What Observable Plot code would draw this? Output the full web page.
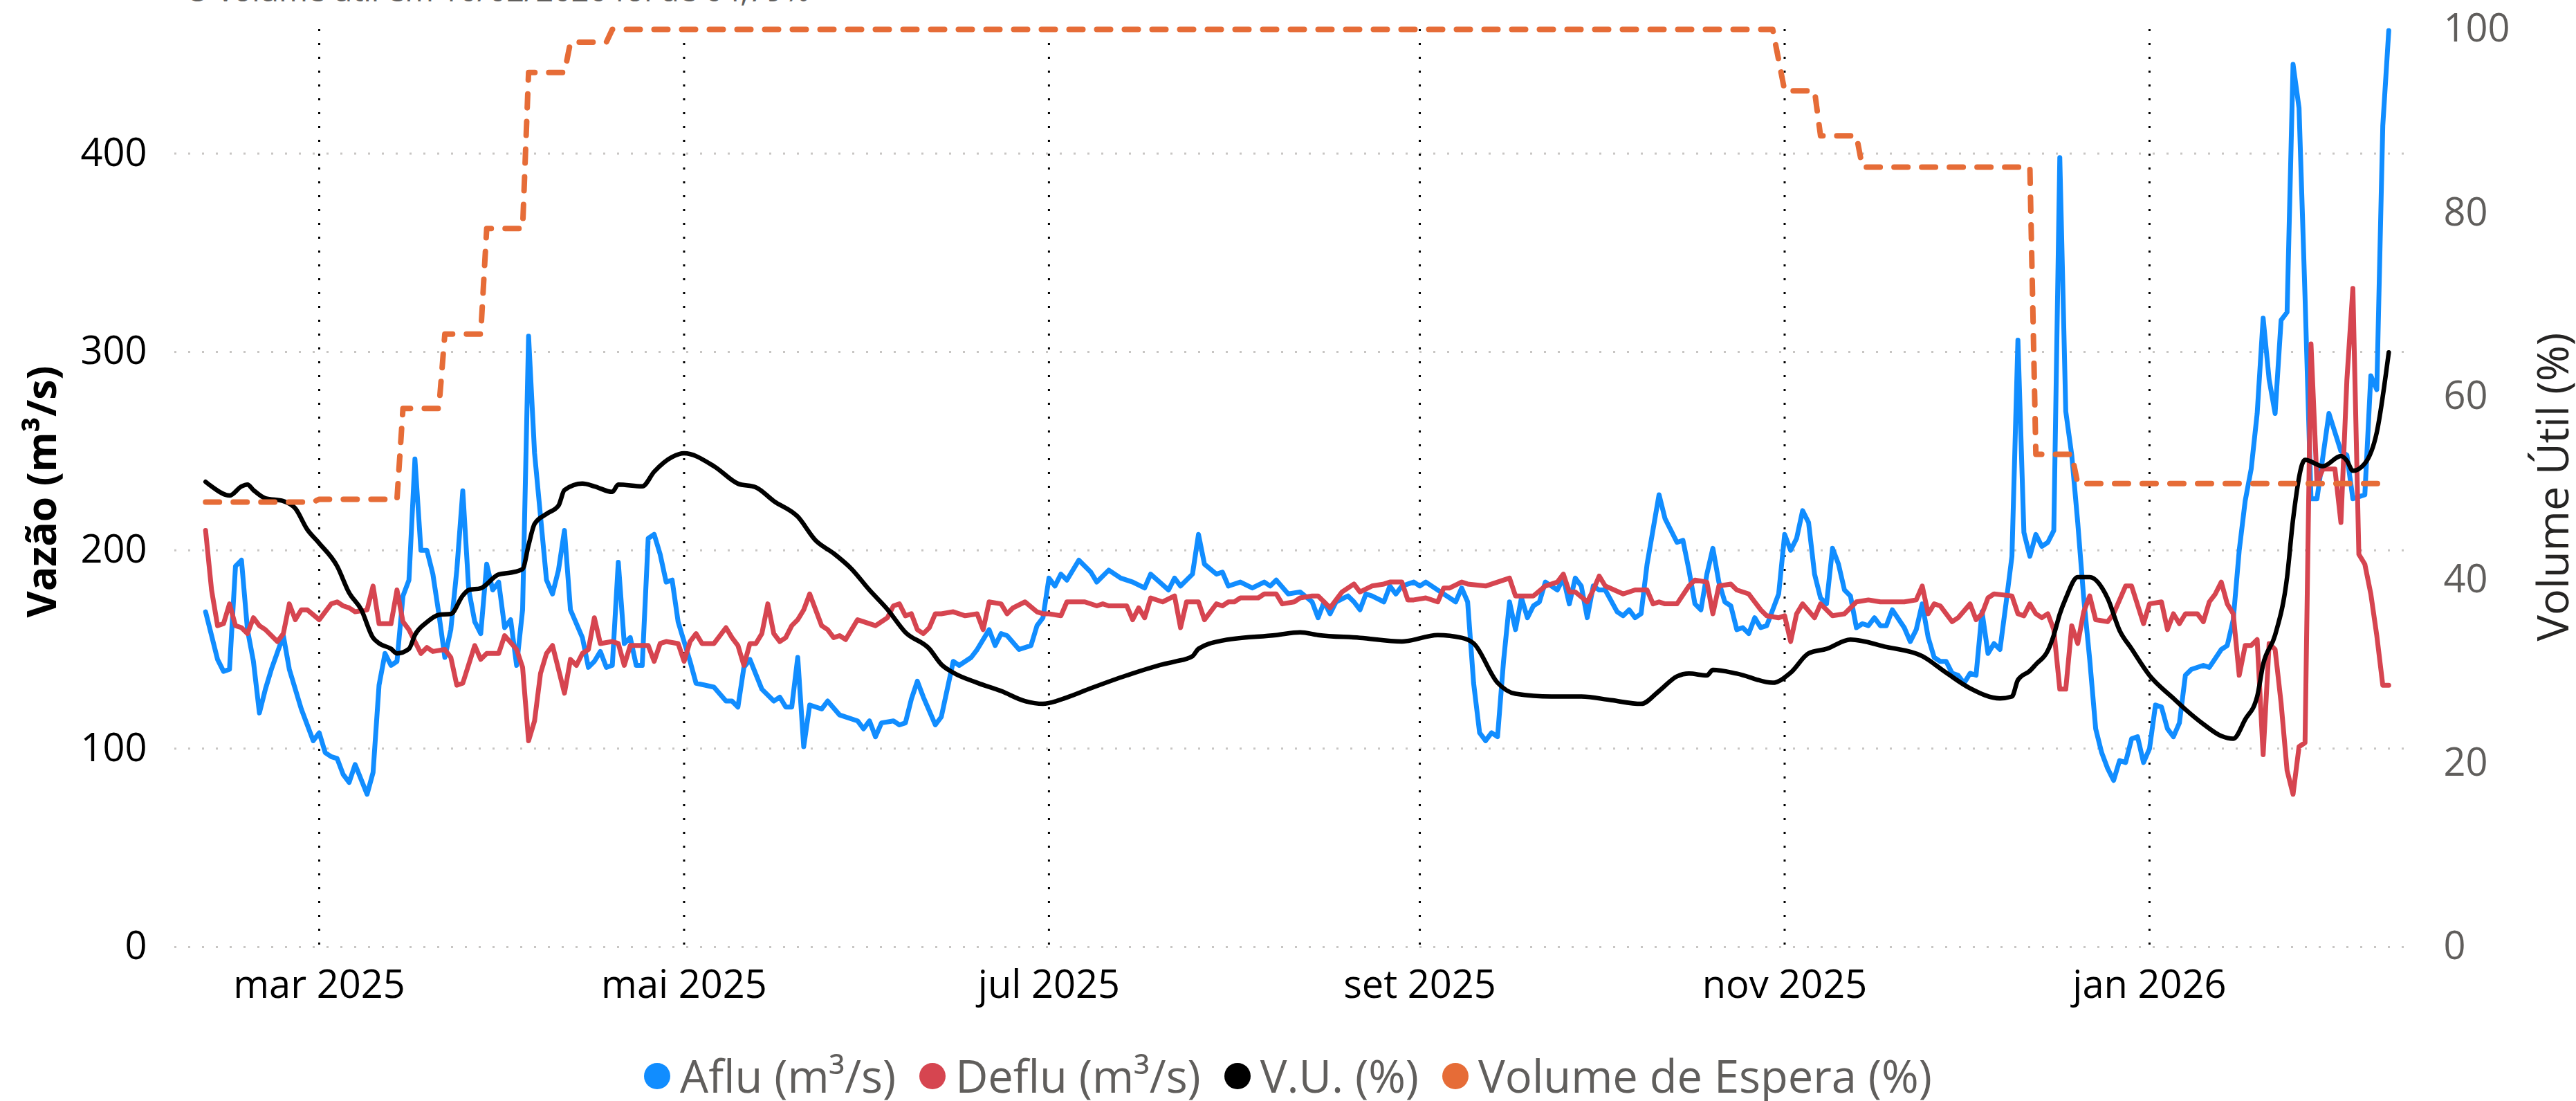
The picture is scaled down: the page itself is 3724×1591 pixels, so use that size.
<!DOCTYPE html>
<html><head><meta charset="utf-8">
<script src="https://cdn.jsdelivr.net/npm/d3@7"></script>
<script src="https://cdn.jsdelivr.net/npm/@observablehq/plot@0.6"></script>
<style>
html,body{margin:0;padding:0;background:#fff;width:3724px;height:1591px;overflow:hidden;font-family:'Open Sans',sans-serif;}
#wrap{position:relative;width:3724px;height:1591px;}
#chart{position:absolute;left:0;top:0;}
#title{position:absolute;left:268px;top:-38px;font-size:45px;line-height:45px;color:#605E5C;white-space:nowrap;}
#legend{position:absolute;left:0;top:1522px;width:3724px;height:65px;display:flex;justify-content:center;align-items:center;font-size:65px;line-height:65px;color:#605E5C;}
.item{display:flex;align-items:center;margin:0 17px;}
.dot{width:38px;height:38px;border-radius:50%;margin-right:14px;flex:none;}
</style></head>
<body><div id="wrap"><div id="title"></div><div id="chart"></div><div id="legend"></div></div>
<script>
// ---- data (day = days since 2025-03-01) ----
const titleText = "O volume útil em 10/02/2026 foi de 64,79%";
const seriesNames = ["Aflu (m³/s)", "Deflu (m³/s)", "V.U. (%)", "Volume de Espera (%)"];
const seriesColors = ["#118DFF", "#D64550", "#000000", "#E66C37"];
const leftTicks = [0, 100, 200, 300, 400];
const rightTicks = [0, 20, 40, 60, 80, 100];
const monthTicks = ["2025-03-01", "2025-05-01", "2025-07-01", "2025-09-01", "2025-11-01", "2026-01-01"];
const monthLabels = ["mar 2025", "mai 2025", "jul 2025", "set 2025", "nov 2025", "jan 2026"];

const aflu = [[-19,169],[-18,157],[-17,145],[-16,139],[-15,140],[-14,192],[-13,195],[-12,160],[-11,144],[-10,118],[-9,130],[-8,140],[-6,157],[-5,140],[-3,120],[-1,104],[0,108],[1,98],[2,96],[3,95],[4,87],[5,83],[6,92],[8,77],[9,88],[10,132],[11,148],[12,142],[13,144],[14,177],[15,185],[16,246],[17,200],[18,200],[19,188],[20,168],[21,146],[22,160],[23,190],[24,230],[25,180],[26,164],[27,158],[28,193],[29,180],[30,184],[31,161],[32,165],[33,142],[34,170],[35,308],[36,249],[38,185],[39,178],[40,190],[41,210],[42,170],[44,156],[45,141],[46,144],[47,149],[48,141],[49,142],[50,194],[51,153],[52,156],[53,142],[54,142],[55,206],[56,208],[57,198],[58,184],[59,185],[60,164],[62,144],[63,133],[66,131],[68,124],[69,124],[70,121],[71,141],[72,145],[74,130],[76,124],[77,126],[78,121],[79,121],[80,146],[81,101],[82,122],[84,120],[85,124],[87,117],[90,114],[91,110],[92,114],[93,106],[94,113],[96,114],[97,112],[98,113],[99,125],[100,134],[101,126],[103,112],[104,116],[106,144],[107,142],[109,146],[110,150],[112,160],[113,152],[114,158],[115,157],[117,150],[119,152],[120,162],[121,166],[122,186],[123,182],[124,188],[125,185],[127,195],[129,189],[130,184],[132,190],[134,186],[136,184],[138,181],[139,188],[142,180],[143,186],[144,182],[146,188],[147,208],[148,193],[150,188],[151,189],[152,182],[154,184],[156,181],[158,184],[159,182],[160,185],[162,178],[164,179],[166,174],[167,166],[168,174],[169,168],[170,174],[172,177],[173,174],[174,170],[175,178],[176,177],[178,174],[179,182],[180,178],[181,182],[183,184],[184,182],[185,184],[187,180],[190,174],[191,181],[192,174],[193,133],[194,108],[195,104],[196,108],[197,106],[198,144],[199,174],[200,160],[201,176],[202,166],[203,172],[204,174],[205,184],[206,182],[207,180],[208,186],[209,173],[210,186],[211,182],[212,166],[213,182],[214,180],[215,180],[217,169],[218,167],[219,170],[220,166],[221,168],[222,193],[224,228],[225,216],[227,204],[228,205],[229,190],[230,173],[231,170],[232,188],[233,201],[234,184],[235,174],[236,172],[237,160],[238,161],[239,158],[240,166],[241,161],[242,162],[244,178],[245,208],[246,200],[247,206],[248,220],[249,214],[250,188],[251,176],[252,173],[253,201],[254,193],[255,180],[256,177],[257,161],[258,163],[259,162],[260,166],[261,162],[262,162],[263,170],[265,161],[266,154],[267,160],[268,173],[269,156],[270,146],[271,144],[272,144],[273,138],[274,137],[275,133],[276,138],[277,137],[278,169],[279,148],[280,153],[281,150],[282,173],[283,197],[284,306],[285,209],[286,197],[287,208],[288,202],[289,204],[290,210],[291,398],[292,270],[293,248],[294,214],[295,176],[296,145],[297,110],[298,98],[299,90],[300,84],[301,94],[302,93],[303,105],[304,106],[305,93],[306,100],[307,122],[308,121],[309,110],[310,106],[311,113],[312,137],[313,140],[315,142],[316,141],[318,150],[319,152],[320,165],[321,200],[322,225],[323,241],[324,269],[325,317],[326,286],[327,269],[328,316],[329,320],[330,445],[331,423],[332,328],[333,226],[334,226],[336,269],[338,250],[339,248],[340,226],[342,228],[343,288],[344,281],[345,414],[346,462]];

const deflu = [[-19,210],[-18,180],[-17,162],[-16,163],[-15,173],[-14,162],[-13,161],[-12,158],[-11,166],[-10,162],[-9,160],[-7,154],[-6,158],[-5,173],[-4,165],[-3,170],[-2,170],[0,165],[2,173],[3,174],[4,172],[5,171],[6,169],[8,170],[9,182],[10,163],[12,163],[13,180],[14,164],[15,160],[17,148],[18,151],[19,149],[21,150],[22,146],[23,132],[24,133],[26,152],[27,145],[28,148],[30,148],[31,157],[33,150],[34,141],[35,104],[36,114],[37,138],[38,148],[39,152],[40,140],[41,128],[42,145],[43,142],[44,148],[45,150],[46,166],[47,153],[49,154],[50,153],[51,142],[52,152],[55,152],[56,144],[57,153],[58,154],[60,153],[61,144],[62,154],[63,158],[64,153],[66,153],[68,161],[69,156],[70,152],[71,142],[72,153],[73,153],[74,158],[75,173],[76,158],[77,154],[78,156],[79,162],[80,165],[81,170],[82,178],[84,162],[85,160],[86,156],[87,157],[88,155],[90,165],[91,164],[93,162],[95,166],[96,172],[97,173],[98,167],[99,168],[100,160],[101,158],[102,161],[103,168],[104,168],[106,169],[108,167],[110,168],[111,160],[112,174],[114,173],[115,168],[116,171],[118,174],[120,169],[121,168],[122,168],[124,167],[125,174],[128,174],[130,172],[131,173],[132,172],[135,172],[136,165],[137,171],[138,166],[139,176],[141,174],[143,177],[144,161],[145,174],[147,174],[148,165],[150,173],[151,172],[152,174],[153,174],[154,176],[157,176],[158,178],[160,178],[161,173],[163,174],[164,176],[166,177],[167,177],[169,171],[171,179],[173,183],[174,179],[176,182],[178,183],[179,184],[181,184],[182,175],[183,175],[185,176],[187,174],[188,181],[189,181],[191,184],[192,183],[195,182],[197,184],[199,186],[200,177],[201,177],[203,177],[205,182],[207,184],[208,188],[209,179],[210,179],[212,174],[213,180],[214,187],[215,182],[218,178],[220,180],[222,180],[223,173],[224,174],[225,173],[227,173],[229,182],[230,185],[232,184],[233,168],[234,182],[236,183],[237,180],[239,178],[241,170],[242,167],[244,166],[245,167],[246,154],[247,168],[248,173],[250,166],[251,173],[253,167],[255,168],[257,174],[259,175],[261,174],[265,174],[267,175],[268,182],[269,168],[270,173],[271,172],[273,164],[274,166],[276,173],[277,165],[278,168],[279,176],[280,178],[283,177],[284,168],[285,167],[286,173],[287,168],[288,166],[289,168],[290,160],[291,130],[292,130],[293,162],[294,153],[295,169],[296,177],[297,165],[299,164],[300,168],[302,182],[303,182],[305,163],[306,173],[308,174],[309,160],[310,168],[311,163],[312,168],[314,168],[315,164],[316,174],[317,178],[318,184],[319,173],[320,168],[321,137],[322,152],[323,152],[324,155],[325,97],[326,153],[327,150],[328,123],[329,89],[330,77],[331,101],[332,103],[333,304],[334,234],[335,241],[337,241],[338,214],[339,286],[340,332],[341,198],[342,193],[343,178],[344,157],[345,132],[346,132]];

const volumeUtil = [[-19,50.7],[-18,50.2],[-15,49.2],[-13,50.2],[-12,50.4],[-11,49.8],[-9,48.9],[-6,48.6],[-4,47.8],[-2,45.5],[0,44.0],[3,41.5],[5,38.6],[7,36.8],[9,33.7],[10,33.1],[12,32.5],[13,32.0],[15,32.5],[16,34.0],[18,35.4],[20,36.2],[22,36.3],[24,38.3],[25,38.9],[27,39.1],[30,40.6],[32,40.8],[34,41.2],[35,43.8],[36,46.1],[38,47.2],[40,48.1],[41,49.8],[44,50.5],[46,50.2],[49,49.6],[50,50.4],[54,50.2],[56,51.8],[59,53.4],[61,53.8],[66,52.4],[70,50.5],[73,50.1],[76,48.6],[80,46.9],[83,44.3],[86,42.9],[89,41.2],[92,38.9],[95,36.8],[98,34.3],[102,32.5],[104,30.8],[106,29.9],[110,28.8],[114,27.9],[118,26.8],[121,26.5],[125,27.2],[129,28.2],[135,29.6],[141,30.8],[143,31.1],[146,31.7],[147,32.5],[151,33.4],[160,34.0],[164,34.3],[167,34.0],[174,33.7],[181,33.3],[187,34.0],[191,33.7],[193,33.1],[197,28.8],[200,27.6],[206,27.3],[211,27.3],[216,26.9],[221,26.5],[224,27.9],[227,29.5],[229,29.8],[232,29.6],[233,30.2],[237,29.8],[243,28.8],[246,29.9],[249,32.0],[252,32.5],[256,33.5],[262,32.7],[268,31.7],[272,29.9],[276,28.2],[281,27.1],[283,27.3],[284,29.1],[286,30.1],[287,30.8],[289,32.3],[290,34.0],[291,36.3],[292,38.0],[294,40.3],[296,40.3],[299,38.0],[301,34.5],[303,32.5],[306,29.6],[310,27.1],[312,25.9],[315,24.3],[318,23.0],[320,22.7],[322,24.8],[324,27.3],[325,30.8],[327,34.0],[329,40.3],[330,46.6],[332,53.1],[335,52.4],[338,53.5],[339,53.0],[340,51.9],[342,52.7],[344,56.1],[346,64.8]];

const volumeEspera = [[-19,48.5],[-1,48.5],[0,48.8],[13,48.8],[14,58.7],[20,58.7],[21,66.8],[27,66.8],[28,78.3],[34,78.3],[35,95.3],[41,95.3],[42,98.6],[48,98.6],[49,100],[243,100],[245,93.3],[250,93.3],[251,88.4],[257,88.4],[258,85],[286,85],[287,53.7],[293,53.7],[294,50.5],[346,50.5]];

// ---- chart ----
const BASE = Date.UTC(2025, 2, 1);
const toDate = d => new Date(BASE + d * 864e5);
const K = 4.626; // left-axis units per percent point
const monthDates = monthTicks.map(s => new Date(s + "T00:00:00Z"));
const labelMap = new Map(monthDates.map((d, i) => [+d, monthLabels[i]]));
const lineOpts = {strokeLinejoin: "round", strokeLinecap: "round"};

const chart = Plot.plot({
  width: 3724, height: 1480,
  marginLeft: 252, marginRight: 234, marginTop: 42, marginBottom: 112,
  style: {fontFamily: "'Open Sans', sans-serif", fontSize: "56px", background: "transparent", overflow: "visible"},
  x: {type: "utc", domain: [toDate(-24.17), toDate(350.3)]},
  y: {domain: [0, 100 * K]},
  marks: [
    Plot.ruleY(leftTicks, {stroke: "#C8C6C4", strokeWidth: 3, strokeDasharray: "3,17"}),
    Plot.ruleX(monthDates, {stroke: "#000", strokeWidth: 3, strokeDasharray: "3,17"}),
    Plot.line(aflu, {x: d => toDate(d[0]), y: d => d[1], stroke: seriesColors[0], strokeWidth: 7, ...lineOpts}),
    Plot.line(deflu, {x: d => toDate(d[0]), y: d => d[1], stroke: seriesColors[1], strokeWidth: 7, ...lineOpts}),
    Plot.line(volumeUtil, {x: d => toDate(d[0]), y: d => d[1] * K, stroke: seriesColors[2], strokeWidth: 6.5, curve: "monotone-x", ...lineOpts}),
    Plot.line(volumeEspera, {x: d => toDate(d[0]), y: d => d[1] * K, stroke: seriesColors[3], strokeWidth: 8, strokeDasharray: "20,20", strokeLinejoin: "round"}),
    Plot.axisX(monthDates, {tickSize: 0, tickPadding: 34, tickFormat: d => labelMap.get(+d), fill: "#000", label: null}),
    Plot.axisY(leftTicks, {anchor: "left", tickSize: 0, tickPadding: 40, label: null, fill: "#000"}),
    Plot.axisY(rightTicks.map(p => p * K), {anchor: "right", tickSize: 0, tickPadding: 42, tickFormat: d => String(Math.round(d / K)), label: null, fill: "#605E5C"}),
    Plot.text(["Vazão (m³/s)"], {frameAnchor: "left", dx: -190, dy: 5, rotate: -90, textAnchor: "middle", fontWeight: "bold", fontSize: 59, fill: "#000"}),
    Plot.text(["Volume Útil (%)"], {frameAnchor: "right", dx: 202, dy: -2, rotate: -90, textAnchor: "middle", fontSize: 63, fill: "#252423"})
  ]
});
document.getElementById("chart").appendChild(chart);
document.getElementById("title").textContent = titleText;

const legend = document.getElementById("legend");
seriesNames.forEach((name, i) => {
  const item = document.createElement("div");
  item.className = "item";
  const dot = document.createElement("span");
  dot.className = "dot";
  dot.style.background = seriesColors[i];
  const label = document.createElement("span");
  label.textContent = name;
  item.appendChild(dot); item.appendChild(label);
  legend.appendChild(item);
});
</script></body></html>
